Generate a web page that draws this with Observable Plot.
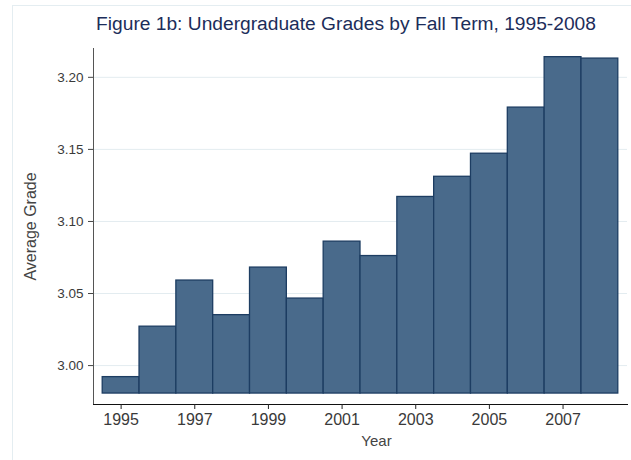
<!DOCTYPE html>
<html>
<head>
<meta charset="utf-8">
<script src="https://cdn.jsdelivr.net/npm/d3@7"></script>
<script src="https://cdn.jsdelivr.net/npm/@observablehq/plot@0.6"></script>
<style>
  html, body { margin: 0; padding: 0; background: #fff; }
  #wrap { position: relative; width: 631px; height: 460px; overflow: hidden; font-family: "Liberation Sans", Arial, sans-serif; }
  #border { position: absolute; left: 12px; top: 5px; right: 0; bottom: 0; border-top: 1px solid #e4edf1; border-left: 1px solid #e4edf1; }
  #title { position: absolute; left: 0; width: 692px; top: 13px; line-height: 22px; text-align: center; font-size: 19.2px; color: #1c2d5a; white-space: nowrap; }
  #chart { position: absolute; left: 0; top: 40px; }
</style>
</head>
<body>
<div id="wrap">
  <div id="border"></div>
  <div id="title">Figure 1b: Undergraduate Grades by Fall Term, 1995-2008</div>
  <div id="chart"></div>
</div>
<script>
const years = [1995, 1996, 1997, 1998, 1999, 2000, 2001, 2002, 2003, 2004, 2005, 2006, 2007, 2008];
const grades = [2.992, 3.027, 3.059, 3.035, 3.068, 3.0465, 3.086, 3.076, 3.117, 3.131, 3.147, 3.179, 3.214, 3.213];
const baseGrade = 2.9806;
const yTicks = [3.00, 3.05, 3.10, 3.15, 3.20];
const xTicks = [1995, 1997, 1999, 2001, 2003, 2005, 2007];
const yLabel = "Average Grade";
const xLabel = "Year";

const data = years.map((y, i) => ({year: y, grade: grades[i]}));

const chart = Plot.plot({
  width: 631,
  height: 420,
  marginLeft: 93,
  marginRight: 4,
  marginTop: 8,
  marginBottom: 56,
  style: {fontFamily: "'Liberation Sans', Arial, sans-serif", background: "transparent", color: "#333"},
  x: {type: "linear", domain: [1994.25, 2008.75]},
  y: {domain: [2.973, 3.22]},
  marks: [
    Plot.gridY(yTicks, {stroke: "#e3ecf0", strokeOpacity: 1}),
    Plot.rectY(data, {
      x1: d => d.year - 0.5,
      x2: d => d.year + 0.5,
      y1: baseGrade,
      y2: "grade",
      fill: "#496a8b",
      stroke: "#1d3d62",
      strokeWidth: 1.3
    }),
    Plot.frame({anchor: "left", stroke: "#555"}),
    Plot.frame({anchor: "bottom", stroke: "#111"}),
    Plot.axisY({ticks: yTicks, tickFormat: d3.format(".2f"), tickSize: 5, tickPadding: 5, fontSize: 13.5, label: null, stroke: "#444", fill: "#3a3a3a"}),
    Plot.axisX({ticks: xTicks, tickFormat: d => String(d), tickSize: 5, tickPadding: 4, fontSize: 16, label: null, stroke: "#222", fill: "#3a3a3a"}),
    Plot.text([yLabel], {frameAnchor: "left", textAnchor: "middle", rotate: -90, dx: -63, fontSize: 16, fill: "#444"}),
    Plot.text([xLabel], {frameAnchor: "bottom", dx: 16, dy: 41, fontSize: 15, fill: "#444"})
  ]
});
document.getElementById("chart").appendChild(chart);
</script>
</body>
</html>
